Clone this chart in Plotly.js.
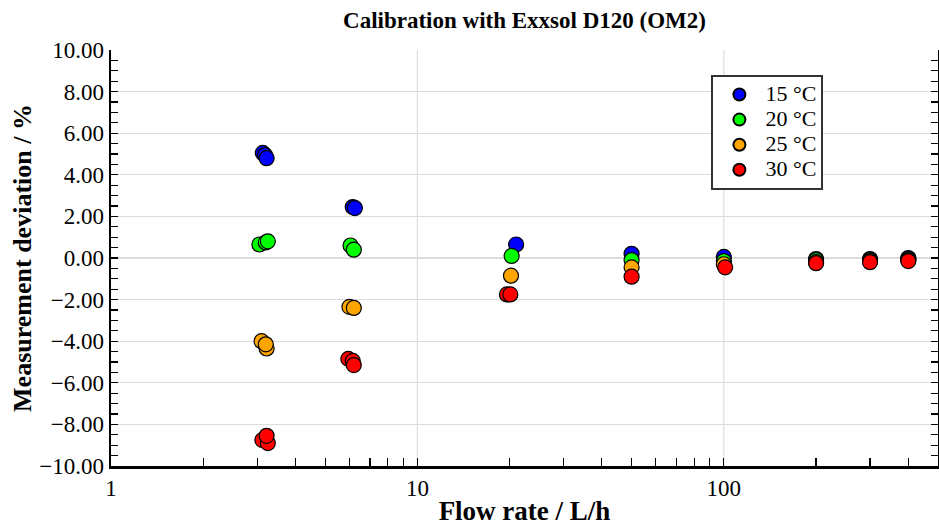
<!DOCTYPE html>
<html>
<head>
<meta charset="utf-8">
<script src="https://cdn.plot.ly/plotly-3.0.1.min.js"></script>
<style>html,body{margin:0;padding:0;background:#fff;}#chart{width:939px;height:526px;}</style>
</head>
<body>
<div id="chart"></div>
<script>
// Flow rate (L/h) and measurement deviation (%) per temperature
const flow15 = [3.13, 3.18, 3.22, 6.15, 6.25, 21.0, 50.0, 100, 200, 300, 400];
const dev15  = [5.05, 4.95, 4.80, 2.45, 2.40, 0.65, 0.20, 0.05, -0.05, -0.05, 0.00];

const flow20 = [3.05, 3.20, 3.25, 6.05, 6.20, 20.3, 50.0, 100, 200, 300, 400];
const dev20  = [0.65, 0.75, 0.80, 0.60, 0.40, 0.10, -0.10, -0.15, -0.10, -0.10, -0.05];

const flow25 = [3.10, 3.22, 3.20, 6.00, 6.20, 20.2, 50.0, 100, 200, 300, 400];
const dev25  = [-4.00, -4.35, -4.15, -2.35, -2.40, -0.85, -0.45, -0.30, -0.20, -0.15, -0.10];

const flow30 = [3.12, 3.25, 3.22, 5.95, 6.15, 6.20, 19.6, 20.1, 50.0, 101, 200, 300, 400];
const dev30  = [-8.75, -8.90, -8.55, -4.85, -4.95, -5.15, -1.75, -1.75, -0.90, -0.45, -0.25, -0.20, -0.15];

const names = ['15 °C', '20 °C', '25 °C', '30 °C'];
const colors = ['#0000ff', '#00ff00', '#ffa500', '#ff0000'];
const xs = [flow15, flow20, flow25, flow30];
const ys = [dev15, dev20, dev25, dev30];

// x-axis ticks: labelled decades and unlabelled intermediate ticks
const xTickVals = [1,2,3,4,5,6,7,8,9,10,20,30,40,50,60,70,80,90,100,200,300,400];
const xTickText = xTickVals.map(v => [1,10,100].includes(v) ? String(v) : '');
const xGridVals = [10, 100];

const font = 'Liberation Serif, Times New Roman, serif';

const traces = xs.map((x, i) => ({
  x: x, y: ys[i], type: 'scatter', mode: 'markers',
  name: '<span style="font-size:22px">' + names[i] + '</span>',
  marker: {color: colors[i], size: 15, line: {color: '#000', width: 1.2}}
}));

const shapes = xGridVals.map(v => ({
  type: 'line', xref: 'x', yref: 'paper', x0: v, x1: v, y0: 0, y1: 1,
  line: {color: '#dcdcdc', width: 1.2}, layer: 'below'
}));

const layout = {
  width: 939, height: 526,
  margin: {l: 111, r: 1, t: 50, b: 60},
  paper_bgcolor: '#fff', plot_bgcolor: '#fff',
  font: {family: font, color: '#000', size: 22},
  title: {text: '<b>Calibration with Exxsol D120 (OM2)</b>', font: {family: font, size: 23},
          x: 0.5, xref: 'paper', xanchor: 'center', y: 0.962, yref: 'container', yanchor: 'middle'},
  showlegend: true,
  legend: {x: 0.726, y: 0.94, xanchor: 'left', yanchor: 'top', bgcolor: '#fff', bordercolor: '#333', borderwidth: 2,
           font: {family: font, size: 17}, itemsizing: 'constant', itemwidth: 42, tracegroupgap: 0},
  shapes: shapes,
  xaxis: {
    type: 'log', range: [0, Math.log10(500)],
    tickmode: 'array', tickvals: xTickVals, ticktext: xTickText,
    ticks: 'inside', ticklen: 8, tickwidth: 1.2, tickcolor: '#000',
    showline: true, linecolor: '#000', linewidth: 2.5,
    showgrid: false, zeroline: false,
    tickfont: {family: font, size: 23},
    title: {text: '<b>Flow rate / L/h</b>', font: {family: font, size: 27}, standoff: 6}
  },
  yaxis: {
    range: [-10, 10], dtick: 2, tick0: 0, tickformat: '.2f',
    ticks: 'inside', ticklen: 7, tickwidth: 1.2, tickcolor: '#000',
    showline: true, linecolor: '#000', linewidth: 2.5, mirror: 'ticks',
    showgrid: true, gridcolor: '#dcdcdc', gridwidth: 1.2, zeroline: false,
    tickfont: {family: font, size: 23},
    minor: {dtick: 0.5, ticks: 'inside', ticklen: 7, tickwidth: 1.2, tickcolor: '#000', showgrid: false},
    title: {text: '<b>Measurement deviation / %</b>', font: {family: font, size: 26}, standoff: 0}
  }
};

Plotly.newPlot('chart', traces, layout, {displayModeBar: false, staticPlot: true});
</script>
</body>
</html>
